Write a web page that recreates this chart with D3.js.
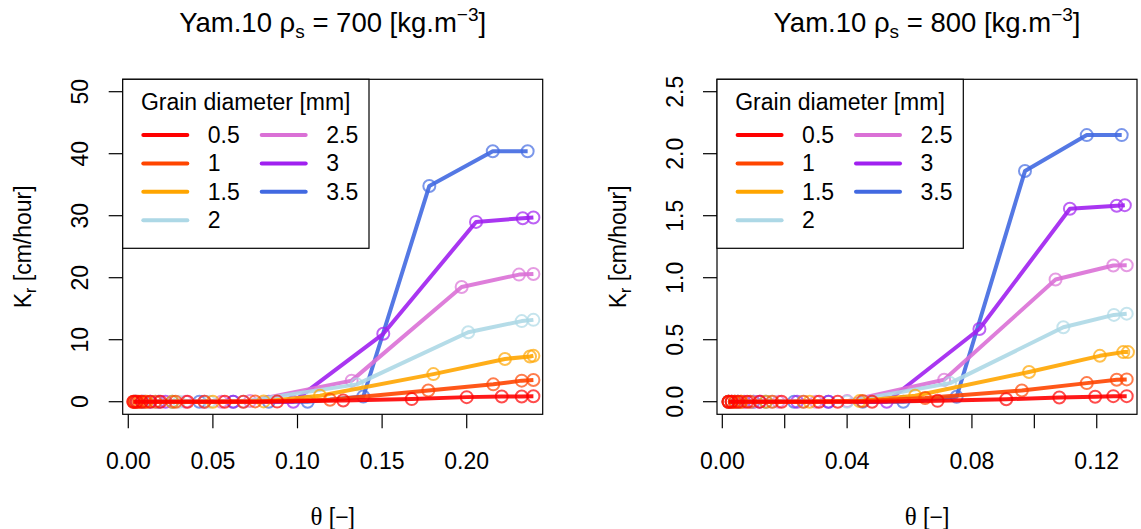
<!DOCTYPE html>
<html>
<head>
<meta charset="utf-8">
<style>
  body { margin: 0; background: #fff; }
  svg text { font-family: "Liberation Sans", Arial, sans-serif; fill: #000; }
</style>
</head>
<body>
<div id="diagram"></div>
<script src="https://cdn.jsdelivr.net/npm/d3@7/dist/d3.min.js"></script>
<script>

// grain diameters and their colours (legend order)
var diameters = ["0.5", "1", "1.5", "2", "2.5", "3", "3.5"];
var colors = ["#FF0000", "#FF4500", "#FFA500", "#ADD8E6", "#DA70D6", "#A020F0", "#4169E1"];

// rho_s = 700 : theta [-] and Kr [cm/hour], one array per diameter
var theta700 = [
	[0.003, 0.005, 0.008, 0.013, 0.019, 0.035, 0.057, 0.068, 0.088, 0.127, 0.1675, 0.200, 0.2207, 0.2325, 0.2394],
	[0.003, 0.004, 0.006, 0.010, 0.016, 0.028, 0.045, 0.075, 0.1192, 0.1773, 0.2157, 0.2325, 0.2394],
	[0.004, 0.007, 0.011, 0.026, 0.050, 0.080, 0.1133, 0.1803, 0.2226, 0.2374, 0.2394],
	[0.005, 0.009, 0.016, 0.030, 0.048, 0.068, 0.135, 0.2009, 0.2325, 0.2394],
	[0.005, 0.010, 0.018, 0.034, 0.055, 0.072, 0.132, 0.197, 0.2309, 0.2394],
	[0.004, 0.008, 0.013, 0.022, 0.045, 0.062, 0.0975, 0.1507, 0.2055, 0.2331, 0.2394],
	[0.004, 0.009, 0.018, 0.026, 0.042, 0.062, 0.083, 0.106, 0.1389, 0.1779, 0.2154, 0.236]
];
var kr700 = [
	[0, 0, 0, 0, 0, 0, 0, 0, 0.02, 0.2, 0.42, 0.74, 0.84, 0.85, 0.87],
	[0, 0, 0, 0, 0, 0, 0, 0.05, 0.31, 1.8, 2.8, 3.4, 3.5],
	[0, 0, 0, 0, 0, 0.05, 0.95, 4.45, 6.9, 7.3, 7.4],
	[0, 0, 0, 0, 0, 0, 2.8, 11.2, 13.0, 13.2],
	[0, 0, 0, 0, 0, 0.1, 3.4, 18.5, 20.5, 20.6],
	[0, 0, 0, 0, 0, 0, 0, 10.95, 29.0, 29.6, 29.7],
	[0, 0, 0, 0, 0, 0, 0, 0, 0.84, 34.8, 40.4, 40.4]
];

// rho_s = 800
var theta800 = [
	[0.002, 0.003, 0.005, 0.008, 0.012, 0.019, 0.031, 0.037, 0.048, 0.069, 0.091, 0.108, 0.1195, 0.1253, 0.1296],
	[0.002, 0.003, 0.004, 0.006, 0.009, 0.016, 0.026, 0.045, 0.065, 0.096, 0.1168, 0.1264, 0.1296],
	[0.002, 0.004, 0.006, 0.014, 0.028, 0.044, 0.0618, 0.0983, 0.121, 0.1285, 0.1300],
	[0.003, 0.005, 0.009, 0.016, 0.026, 0.040, 0.073, 0.1093, 0.1255, 0.1296],
	[0.003, 0.005, 0.010, 0.018, 0.030, 0.040, 0.0711, 0.1068, 0.1253, 0.1296],
	[0.002, 0.004, 0.007, 0.012, 0.024, 0.034, 0.0527, 0.0824, 0.1114, 0.1264, 0.129],
	[0.002, 0.005, 0.010, 0.014, 0.023, 0.034, 0.045, 0.058, 0.0751, 0.097, 0.1168, 0.128]
];
var kr800 = [
	[0, 0, 0, 0, 0, 0, 0, 0, 0, 0.007, 0.02, 0.034, 0.04, 0.045, 0.045],
	[0, 0, 0, 0, 0, 0, 0, 0.005, 0.03, 0.09, 0.15, 0.177, 0.18],
	[0, 0, 0, 0, 0, 0.005, 0.048, 0.24, 0.37, 0.40, 0.40],
	[0, 0, 0, 0, 0, 0, 0.15, 0.60, 0.70, 0.71],
	[0, 0, 0, 0, 0, 0.005, 0.177, 0.985, 1.098, 1.10],
	[0, 0, 0, 0, 0, 0, 0, 0.586, 1.556, 1.58, 1.585],
	[0, 0, 0, 0, 0, 0, 0, 0, 0.04, 1.86, 2.15, 2.15]
];

// axis ticks
var xTicks700 = [0, 0.05, 0.10, 0.15, 0.20];
var xLabels700 = ["0.00", "0.05", "0.10", "0.15", "0.20"];
var yTicks700 = [0, 10, 20, 30, 40, 50];
var yLabels700 = ["0", "10", "20", "30", "40", "50"];
var xTicks800 = [0, 0.02, 0.04, 0.06, 0.08, 0.10, 0.12];
var xLabels800 = ["0.00", "", "0.04", "", "0.08", "", "0.12"];
var yTicks800 = [0, 0.5, 1.0, 1.5, 2.0, 2.5];
var yLabels800 = ["0.0", "0.5", "1.0", "1.5", "2.0", "2.5"];

var canvas_size = { width: 1141, height: 529 };
var plot_top = 79.3, plot_h = 335, plot_w = 420;
var fs = '23px';

var svg = d3.select('#diagram')
	.append('svg')
		.attr('width', canvas_size.width)
		.attr('height', canvas_size.height);

svg.append('rect')
	.attr('width', canvas_size.width)
	.attr('height', canvas_size.height)
	.attr('fill', '#fff');

function draw_panel(left, rho, thetas, krs, xdom, ydom, xt, xl, yt, yl)
{
	var g = svg.append('g').attr('transform', 'translate(' + left + ',' + plot_top + ')');

	var x = d3.scaleLinear().domain(xdom).range([0, plot_w]);
	var y = d3.scaleLinear().domain(ydom).range([plot_h, 0]);

	// title
	var title = g.append('text')
		.attr('x', plot_w / 2)
		.attr('y', 32 - plot_top)
		.attr('text-anchor', 'middle')
		.style('font-size', '27.5px');
	title.append('tspan').text('Yam.10 \u03C1');
	title.append('tspan').attr('dy', 6).style('font-size', '19px').text('s');
	title.append('tspan').attr('dy', -6).text(' = ' + rho + ' [kg.m');
	title.append('tspan').attr('dy', -11).style('font-size', '19px').text('\u22123');
	title.append('tspan').attr('dy', 11).text(']');

	// ticks
	var tick = 14;
	g.selectAll('.xt').data(xt).enter().append('line')
		.attr('x1', function(d) { return x(d); })
		.attr('x2', function(d) { return x(d); })
		.attr('y1', plot_h).attr('y2', plot_h + tick)
		.attr('stroke', '#000').attr('stroke-width', 1.2);
	g.selectAll('.xl').data(xt).enter().append('text')
		.attr('x', function(d) { return x(d); })
		.attr('y', 469 - plot_top)
		.attr('text-anchor', 'middle')
		.style('font-size', fs)
		.text(function(d, i) { return xl[i]; });

	g.selectAll('.yt').data(yt).enter().append('line')
		.attr('x1', -tick).attr('x2', 0)
		.attr('y1', function(d) { return y(d); })
		.attr('y2', function(d) { return y(d); })
		.attr('stroke', '#000').attr('stroke-width', 1.2);
	g.selectAll('.yl').data(yt).enter().append('text')
		.attr('transform', function(d) { return 'translate(-34.5,' + y(d) + ') rotate(-90)'; })
		.attr('text-anchor', 'middle')
		.style('font-size', fs)
		.text(function(d, i) { return yl[i]; });

	// axis titles
	var xt_lab = g.append('text')
		.attr('x', plot_w / 2)
		.attr('y', 525 - plot_top)
		.attr('text-anchor', 'middle')
		.style('font-size', fs);
	xt_lab.append('tspan').style('font-family', '"Liberation Serif", serif').style('font-size', '25px').text('\u03B8');
	xt_lab.append('tspan').text(' [\u2212]');

	var yt_lab = g.append('text')
		.attr('transform', 'translate(-91.5,' + (plot_h / 2) + ') rotate(-90)')
		.attr('text-anchor', 'middle')
		.style('font-size', fs);
	yt_lab.append('tspan').text('K');
	yt_lab.append('tspan').attr('dy', 5).style('font-size', '16px').text('r');
	yt_lab.append('tspan').attr('dy', -5).text(' [cm/hour]');

	// series, largest diameter first so 0.5 ends on top
	var line = d3.line()
		.x(function(d) { return x(d[0]); })
		.y(function(d) { return y(d[1]); });

	var plot = g.append('g');
	for (var s = diameters.length - 1; s >= 0; s--)
	{
		var pts = thetas[s].map(function(t, i) { return [t, krs[s][i]]; });
		plot.append('path')
			.datum(pts)
			.attr('d', line)
			.attr('fill', 'none')
			.attr('stroke', colors[s])
			.attr('stroke-width', 4)
			.attr('stroke-linejoin', 'round')
			.attr('stroke-opacity', 0.9);
		plot.selectAll(null).data(pts).enter().append('circle')
			.attr('cx', function(d) { return x(d[0]); })
			.attr('cy', function(d) { return y(d[1]); })
			.attr('r', 6)
			.attr('fill', 'none')
			.attr('stroke', colors[s])
			.attr('stroke-width', 2)
			.attr('stroke-opacity', 0.7);
	}

	// frame
	g.append('rect')
		.attr('width', plot_w).attr('height', plot_h)
		.attr('fill', 'none')
		.attr('stroke', '#000').attr('stroke-width', 1.2);

	// legend
	var lg = g.append('g');
	lg.append('rect')
		.attr('width', 246.3).attr('height', 169)
		.attr('fill', '#fff')
		.attr('stroke', '#000').attr('stroke-width', 1.2);
	lg.append('text')
		.attr('x', 123).attr('y', 110 - plot_top)
		.attr('text-anchor', 'middle')
		.style('font-size', fs)
		.text('Grain diameter [mm]');

	var rows = diameters.map(function(d, i) {
		return { label: d, color: colors[i], col: i < 4 ? 0 : 1, row: i < 4 ? i : i - 4 };
	});
	var ent = lg.selectAll('.entry').data(rows).enter().append('g')
		.attr('transform', function(d) {
			return 'translate(' + (d.col ? 139 : 20.6) + ',' + (135 - plot_top + d.row * 28.4) + ')';
		});
	ent.append('line')
		.attr('x1', 0).attr('x2', 44).attr('y1', 0).attr('y2', 0)
		.attr('stroke', function(d) { return d.color; })
		.attr('stroke-width', 4)
		.attr('stroke-linecap', 'round');
	ent.append('text')
		.attr('x', 64.5).attr('y', 8)
		.style('font-size', fs)
		.text(function(d) { return d.label; });
}

draw_panel(122.7, 700, theta700, kr700, [-0.0033, 0.2449], [-2.03, 52.0],
	xTicks700, xLabels700, yTicks700, yLabels700);
draw_panel(717, 800, theta800, kr800, [-0.0017, 0.1329], [-0.1015, 2.6],
	xTicks800, xLabels800, yTicks800, yLabels800);

</script>
</body>
</html>
